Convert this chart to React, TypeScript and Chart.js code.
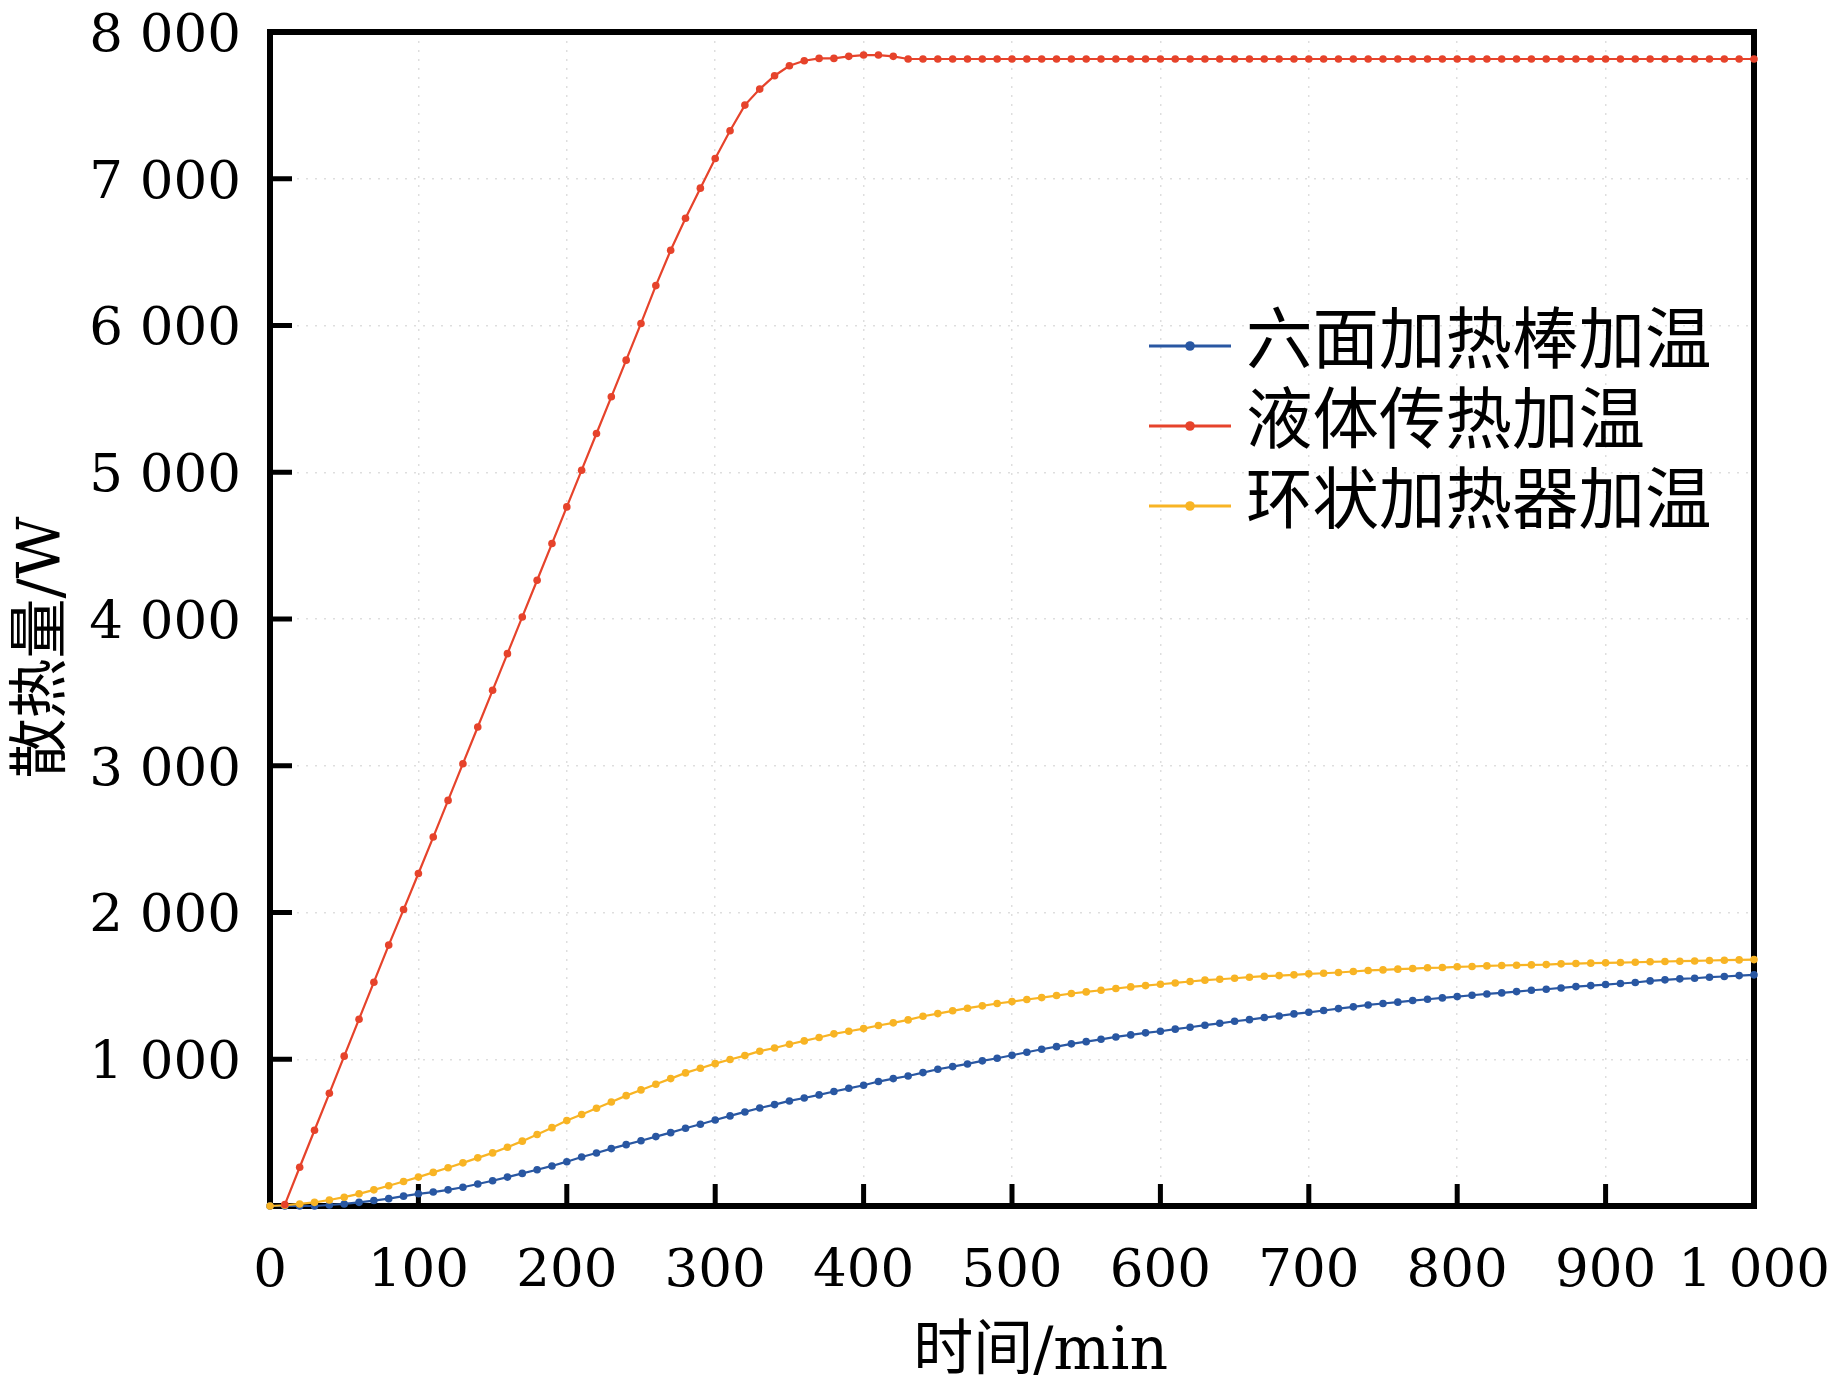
import React, { useEffect, useRef } from 'react';
import { Chart, registerables } from 'chart.js';

Chart.register(...registerables);

const TIME = [
  0, 10, 20, 30, 40, 50, 60, 70, 80, 90,
  100, 110, 120, 130, 140, 150, 160, 170, 180, 190,
  200, 210, 220, 230, 240, 250, 260, 270, 280, 290,
  300, 310, 320, 330, 340, 350, 360, 370, 380, 390,
  400, 410, 420, 430, 440, 450, 460, 470, 480, 490,
  500, 510, 520, 530, 540, 550, 560, 570, 580, 590,
  600, 610, 620, 630, 640, 650, 660, 670, 680, 690,
  700, 710, 720, 730, 740, 750, 760, 770, 780, 790,
  800, 810, 820, 830, 840, 850, 860, 870, 880, 890,
  900, 910, 920, 930, 940, 950, 960, 970, 980, 990,
  1000,
];

const SERIES_NAMES = ['六面加热棒加温', '液体传热加温', '环状加热器加温'];

const BLUE = [
  0, 0, 0, 0, 7, 14, 25, 37, 50, 67,
  83, 95, 110, 128, 150, 172, 197, 222, 247, 273,
  302, 334, 361, 391, 418, 445, 473, 500, 530, 557,
  586, 614, 641, 668, 691, 716, 736, 757, 780, 802,
  823, 848, 868, 886, 909, 932, 950, 968, 989, 1007,
  1027, 1048, 1068, 1086, 1105, 1120, 1136, 1152, 1166, 1180,
  1191, 1205, 1218, 1232, 1245, 1259, 1270, 1284, 1295, 1309,
  1320, 1332, 1345, 1357, 1370, 1380, 1389, 1400, 1409, 1418,
  1427, 1436, 1445, 1452, 1461, 1470, 1477, 1486, 1495, 1502,
  1509, 1516, 1523, 1534, 1541, 1548, 1552, 1559, 1564, 1570,
  1575,
];

const RED = [
  null, 10, 264, 516, 768, 1021, 1273, 1525, 1778, 2020,
  2266, 2514, 2764, 3014, 3264, 3514, 3764, 4014, 4264, 4514,
  4764, 5014, 5264, 5514, 5764, 6014, 6272, 6513, 6731, 6936,
  7138, 7327, 7502, 7611, 7702, 7770, 7804, 7820, 7820, 7834,
  7843, 7843, 7834, 7816, 7816, 7816, 7816, 7816, 7816, 7816,
  7816, 7816, 7816, 7816, 7816, 7816, 7816, 7816, 7816, 7816,
  7816, 7816, 7816, 7816, 7816, 7816, 7816, 7816, 7816, 7816,
  7816, 7816, 7816, 7816, 7816, 7816, 7816, 7816, 7816, 7816,
  7816, 7816, 7816, 7816, 7816, 7816, 7816, 7816, 7816, 7816,
  7816, 7816, 7816, 7816, 7816, 7816, 7816, 7816, 7816, 7816,
  7816,
];

const YELLOW = [
  0, 5, 14, 25, 41, 60, 83, 110, 138, 167,
  197, 229, 261, 294, 328, 362, 400, 442, 487, 534,
  582, 624, 666, 709, 752, 791, 830, 868, 907, 939,
  970, 998, 1025, 1055, 1077, 1102, 1125, 1148, 1173, 1191,
  1209, 1230, 1248, 1268, 1293, 1311, 1330, 1348, 1364, 1380,
  1393, 1407, 1420, 1434, 1448, 1459, 1470, 1482, 1493, 1502,
  1511, 1520, 1530, 1539, 1545, 1552, 1559, 1566, 1570, 1575,
  1582, 1586, 1591, 1598, 1605, 1609, 1614, 1618, 1623, 1625,
  1630, 1632, 1636, 1639, 1641, 1643, 1645, 1650, 1652, 1655,
  1657, 1659, 1661, 1664, 1666, 1668, 1670, 1673, 1675, 1677,
  1679,
];

const X_TITLE = '   时间/min';
const Y_TITLE = '散热量/W   ';

const COLORS = ['#2957A2', '#E6432B', '#F8B424'];
const SERIF = '"DejaVu Serif", "Noto Sans CJK SC", serif';

const fmt = (v: number) => {
  if (v >= 1000) {
    const th = Math.floor(v / 1000);
    const rest = String(v % 1000).padStart(3, '0');
    return `${th} ${rest}`;
  }
  return String(v);
};

const frameTicksPlugin = {
  id: 'frameTicks',
  beforeDatasetsDraw(chart: any) {
    const { ctx, chartArea: a, scales } = chart;
    ctx.save();
    ctx.strokeStyle = '#000';
    ctx.lineCap = 'butt';
    ctx.lineWidth = 5;
    ctx.beginPath();
    scales.x.ticks.forEach((t: any) => {
      const px = scales.x.getPixelForValue(t.value);
      ctx.moveTo(px, a.bottom);
      ctx.lineTo(px, a.bottom - 22);
    });
    scales.y.ticks.forEach((t: any) => {
      const py = scales.y.getPixelForValue(t.value);
      ctx.moveTo(a.left, py);
      ctx.lineTo(a.left + 22, py);
    });
    ctx.stroke();
    ctx.lineWidth = 6;
    ctx.strokeRect(a.left, a.top, a.right - a.left, a.bottom - a.top);
    ctx.restore();
  },
};

const LEGEND_LINE_X0 = 1149;
const LEGEND_LINE_X1 = 1231;
const LEGEND_TEXT_X = 1246;
const LEGEND_ROW_Y = [346, 426, 506];

const legendPlugin = {
  id: 'insideLegend',
  afterDraw(chart: any) {
    const { ctx } = chart;
    ctx.save();
    chart.data.datasets.forEach((ds: any, i: number) => {
      const y = LEGEND_ROW_Y[i];
      ctx.strokeStyle = ds.borderColor;
      ctx.lineWidth = 3;
      ctx.beginPath();
      ctx.moveTo(LEGEND_LINE_X0, y);
      ctx.lineTo(LEGEND_LINE_X1, y);
      ctx.stroke();
      ctx.fillStyle = ds.borderColor;
      ctx.beginPath();
      ctx.arc((LEGEND_LINE_X0 + LEGEND_LINE_X1) / 2, y, 4.8, 0, Math.PI * 2);
      ctx.fill();
      ctx.fillStyle = '#000';
      ctx.font = `66.5px ${SERIF}`;
      ctx.textAlign = 'left';
      ctx.textBaseline = 'middle';
      ctx.fillText(ds.label, LEGEND_TEXT_X, y);
    });
    ctx.restore();
  },
};

export default function App() {
  const ref = useRef<HTMLCanvasElement | null>(null);

  useEffect(() => {
    document.body.style.margin = '0';
    const canvas = ref.current;
    if (!canvas) return;
    const seriesValues = [BLUE, RED, YELLOW];
    const orders = [2, 0, 1];
    const chart = new Chart(canvas, {
      type: 'line',
      data: {
        datasets: seriesValues.map((vals, i) => ({
          label: SERIES_NAMES[i],
          data: TIME.map((t, j) => ({ x: t, y: vals[j] })),
          borderColor: COLORS[i],
          backgroundColor: COLORS[i],
          pointBackgroundColor: COLORS[i],
          pointBorderWidth: 0,
          pointRadius: 3.8,
          borderWidth: 2.2,
          tension: 0,
          clip: false,
          order: orders[i],
        })),
      },
      options: {
        animation: false,
        responsive: false,
        devicePixelRatio: 1,
        layout: { padding: { top: 32, right: 89, left: 0, bottom: 0 } },
        plugins: {
          legend: { display: false },
          tooltip: { enabled: false },
        },
        scales: {
          x: {
            type: 'linear',
            min: 0,
            max: 1000,
            ticks: {
              stepSize: 100,
              padding: 34,
              color: '#000',
              font: { family: SERIF, size: 53 },
              maxRotation: 0,
              autoSkip: false,
              callback: (v: any) => fmt(Number(v)),
            },
            grid: { color: 'rgba(0,0,0,0.13)', lineWidth: 1.5, drawTicks: false },
            border: { display: false, dash: [2, 7] },
            title: {
              display: true,
              text: X_TITLE,
              color: '#000',
              font: { family: SERIF, size: 60 },
              padding: { top: 0, bottom: 6 },
            },
            afterFit: (scale: any) => {
              scale.height = 189;
              scale.paddingLeft = 0;
              scale.paddingRight = 0;
              scale.paddingTop = 0;
              scale.paddingBottom = 0;
            },
          },
          y: {
            type: 'linear',
            min: 0,
            max: 8000,
            ticks: {
              stepSize: 1000,
              padding: 29,
              labelOffset: 5,
              color: '#000',
              font: { family: SERIF, size: 53 },
              autoSkip: false,
              callback: (v: any) => (Number(v) === 0 ? '' : fmt(Number(v))),
            },
            grid: { color: 'rgba(0,0,0,0.13)', lineWidth: 1.5, drawTicks: false },
            border: { display: false, dash: [2, 7] },
            title: {
              display: true,
              text: Y_TITLE,
              color: '#000',
              font: { family: SERIF, size: 60 },
              padding: { top: 8, bottom: 0 },
            },
            afterFit: (scale: any) => {
              scale.width = 270;
              scale.paddingLeft = 0;
              scale.paddingRight = 0;
              scale.paddingTop = 0;
              scale.paddingBottom = 0;
            },
          },
        },
      },
      plugins: [frameTicksPlugin, legendPlugin],
    } as any);
    return () => chart.destroy();
  }, []);

  return (
    <canvas
      ref={ref}
      width={1843}
      height={1395}
      style={{ position: 'absolute', left: 0, top: 0, width: 1843, height: 1395, display: 'block' }}
    />
  );
}
